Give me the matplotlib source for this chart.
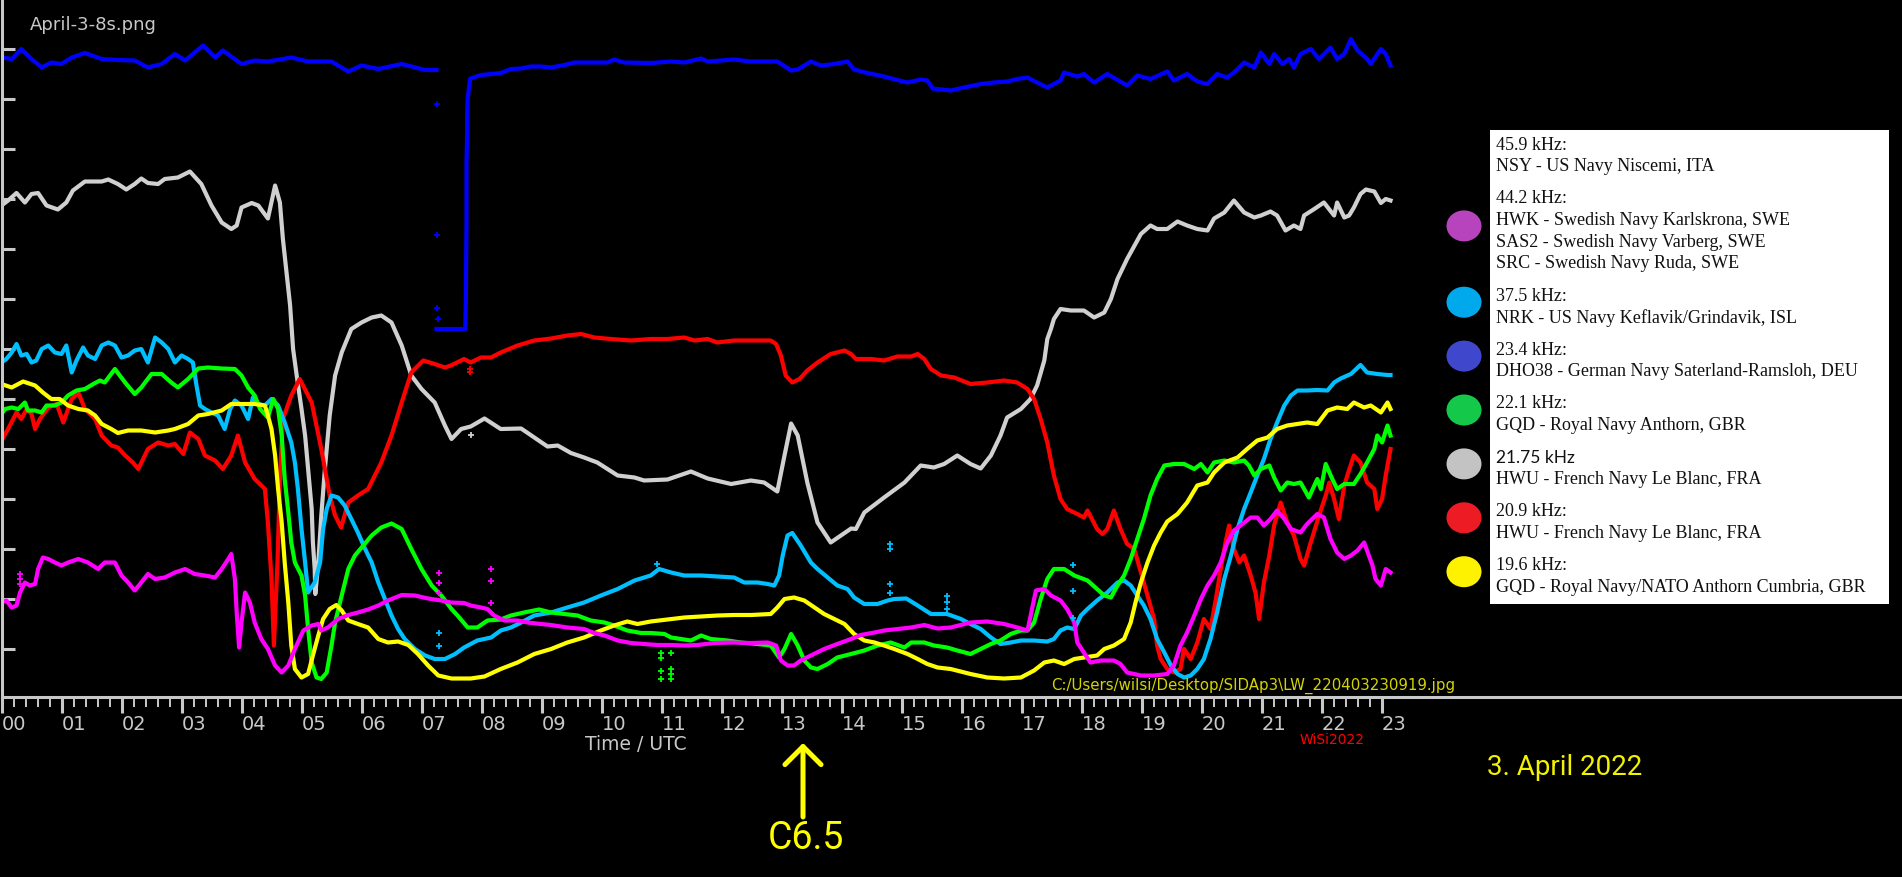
import numpy as np
import matplotlib
matplotlib.use("Agg")
import matplotlib.pyplot as plt
from matplotlib.patches import Rectangle, Ellipse

W, H = 1902, 878
GRAY = "#c8c8c8"
NARROW = ["Liberation Sans Narrow", "DejaVu Sans"]
SERIF = ["Liberation Serif", "DejaVu Serif"]

# ---------------- data (time in UTC hours, signal level in arbitrary units) ----------------
hours = list(range(24))
hour_labels = [f"{h:02d}" for h in hours]

blue_t = [0, .17, .33, .5, .67, .83, 1.0, 1.17, 1.39, 1.67, 1.94, 2.22, 2.44, 2.67, 2.89, 3.06, 3.22, 3.36,
          3.56, 3.69, 4.0, 4.22, 4.44, 4.83, 5.11, 5.5, 5.78, 6.0, 6.28, 6.67, 7.06, 7.25, np.nan,
          7.25, 7.73, 7.74, 7.75, 7.75, 7.76, 7.76, 7.77, 7.79, 7.81, 7.82, 7.99, 8.16, 8.32, 8.49, 8.66,
          8.82, 8.99, 9.16, 9.38, 9.55, 9.82, 10.1, 10.21, 10.38, 10.82, 11.16, 11.38, 11.66, 11.77, 12.21,
          12.49, 12.93, 13.16, 13.27, 13.49, 13.66, 13.88, 14.1, 14.21, 14.43, 14.71, 14.93, 15.1, 15.32,
          15.43, 15.52, 15.82, 16.04, 16.32, 16.54, 16.76, 16.93, 17.1, 17.26, 17.43, 17.65, 17.71, 17.93,
          18.04, 18.21, 18.43, 18.76, 18.93, 19.15, 19.43, 19.54, 19.76, 19.93, 20.1, 20.26, 20.43, 20.54,
          20.71, 20.88, 20.99, 21.13, 21.21, 21.35, 21.46, 21.54, 21.65, 21.82, 21.96, 22.15, 22.26, 22.38,
          22.49, 22.6, 22.76, 22.82, 22.99, 23.07, 23.15]
blue_v = [11.83, 11.8, 12.0, 11.8, 11.63, 11.73, 11.7, 11.83, 11.92, 11.8, 11.78, 11.77, 11.63, 11.7, 11.9,
          11.77, 11.93, 12.07, 11.83, 11.97, 11.7, 11.77, 11.75, 11.83, 11.75, 11.75, 11.55, 11.67, 11.6,
          11.7, 11.58, 11.58, np.nan,
          6.4, 6.4, 7.03, 8.51, 9.71, 10.31, 10.63, 11.01, 11.21, 11.4, 11.41, 11.48, 11.5, 11.52, 11.6,
          11.61, 11.65, 11.65, 11.63, 11.68, 11.73, 11.73, 11.73, 11.79, 11.73, 11.72, 11.75, 11.73, 11.81,
          11.75, 11.79, 11.75, 11.75, 11.57, 11.59, 11.75, 11.67, 11.7, 11.75, 11.59, 11.52, 11.45, 11.38,
          11.33, 11.39, 11.37, 11.21, 11.17, 11.23, 11.3, 11.33, 11.35, 11.4, 11.43, 11.33, 11.23, 11.37,
          11.53, 11.45, 11.5, 11.33, 11.5, 11.27, 11.47, 11.4, 11.55, 11.37, 11.5, 11.35, 11.3, 11.5, 11.43,
          11.53, 11.73, 11.63, 11.93, 11.7, 11.9, 11.7, 11.8, 11.63, 11.9, 12.0, 11.8, 12.03, 11.8, 11.9,
          12.2, 11.97, 11.8, 11.7, 12.0, 11.9, 11.67]

gray_t = [0, .11, .25, .39, .5, .61, .75, .94, 1.08, 1.19, 1.39, 1.67, 1.78, 1.94, 2.08, 2.22, 2.33, 2.44,
          2.61, 2.72, 2.94, 3.14, 3.33, 3.5, 3.67, 3.83, 3.92, 4.0, 4.17, 4.28, 4.44, 4.56, 4.64, 4.69, 4.75,
          4.81, 4.86, 4.92, 5.0, 5.06, 5.11, 5.17, 5.19, 5.22, 5.23, 5.28, 5.33, 5.39, 5.47, 5.56, 5.67,
          5.83, 6.0, 6.17, 6.33, 6.5, 6.67, 6.83, 7.0, 7.22, 7.39, 7.5, 7.66, 7.82, 8.05, 8.32, 8.66, 8.82,
          9.1, 9.27, 9.49, 9.71, 9.93, 10.27, 10.55, 10.71, 11.1, 11.49, 11.77, 12.16, 12.49, 12.71, 12.93,
          13.05, 13.16, 13.27, 13.43, 13.6, 13.82, 13.99, 14.16, 14.24, 14.38, 14.71, 15.05, 15.32, 15.54,
          15.71, 15.93, 16.15, 16.32, 16.49, 16.65, 16.76, 16.99, 17.15, 17.26, 17.38, 17.43, 17.49, 17.54,
          17.65, 17.82, 18.04, 18.21, 18.38, 18.49, 18.6, 18.76, 18.99, 19.15, 19.26, 19.43, 19.6, 19.76,
          19.93, 20.1, 20.21, 20.38, 20.54, 20.71, 20.88, 20.99, 21.15, 21.26, 21.4, 21.54, 21.65, 21.71,
          21.88, 22.04, 22.21, 22.26, 22.38, 22.46, 22.54, 22.65, 22.74, 22.88, 22.99, 23.07, 23.15]
gray_v = [8.87, 8.97, 9.12, 8.93, 9.1, 9.12, 8.87, 8.79, 8.93, 9.17, 9.35, 9.35, 9.39, 9.3, 9.19, 9.3, 9.41,
          9.32, 9.3, 9.4, 9.43, 9.55, 9.3, 8.87, 8.53, 8.4, 8.47, 8.83, 8.92, 8.87, 8.61, 9.27, 8.93, 8.2,
          7.53, 6.87, 6.0, 5.47, 4.8, 4.27, 3.6, 2.8, 2.13, 1.6, 1.1, 1.73, 2.67, 3.6, 4.67, 5.47, 5.93, 6.4,
          6.53, 6.63, 6.67, 6.53, 6.07, 5.47, 5.2, 4.93, 4.47, 4.2, 4.4, 4.45, 4.61, 4.4, 4.41, 4.28, 4.05,
          4.07, 3.92, 3.83, 3.73, 3.47, 3.43, 3.37, 3.39, 3.55, 3.41, 3.3, 3.37, 3.33, 3.15, 3.87, 4.51, 4.27,
          3.33, 2.53, 2.13, 2.27, 2.41, 2.4, 2.73, 3.03, 3.33, 3.67, 3.63, 3.7, 3.87, 3.7, 3.61, 3.87, 4.27,
          4.63, 4.8, 5.0, 5.27, 5.77, 6.2, 6.4, 6.6, 6.8, 6.77, 6.77, 6.63, 6.73, 7.0, 7.4, 7.8, 8.3, 8.47,
          8.4, 8.4, 8.55, 8.47, 8.4, 8.37, 8.61, 8.73, 8.97, 8.73, 8.63, 8.67, 8.75, 8.67, 8.37, 8.47, 8.4,
          8.67, 8.8, 8.93, 8.67, 8.93, 8.63, 8.67, 8.83, 9.1, 9.19, 9.15, 8.92, 9.0, 8.97]

cyan_t = [0, .08, .17, .25, .33, .42, .5, .58, .67, .78, .89, 1.0, 1.08, 1.17, 1.25, 1.36, 1.44, 1.56, 1.67,
          1.78, 1.89, 2.0, 2.11, 2.22, 2.33, 2.44, 2.56, 2.67, 2.78, 2.89, 3.0, 3.11, 3.19, 3.25, 3.31, 3.39,
          3.5, 3.61, 3.72, 3.81, 3.89, 4.0, 4.11, 4.19, 4.28, 4.39, 4.5, 4.61, 4.72, 4.83, 4.89, 4.94, 5.0,
          5.06, 5.11, 5.22, 5.31, 5.36, 5.42, 5.5, 5.61, 5.72, 5.83, 5.94, 6.06, 6.17, 6.28, 6.39, 6.5, 6.61,
          6.72, 6.89, 7.06, 7.22, 7.39, 7.56, 7.71, 7.93, 8.16, 8.32, 8.49, 8.66, 8.88, 9.16, 9.43, 9.71,
          9.99, 10.27, 10.55, 10.82, 10.96, 11.16, 11.38, 11.66, 11.93, 12.21, 12.38, 12.6, 12.77, 12.88,
          12.96, 13.02, 13.1, 13.18, 13.32, 13.49, 13.6, 13.77, 13.93, 14.1, 14.21, 14.38, 14.6, 14.77, 14.88,
          15.08, 15.27, 15.49, 15.76, 15.99, 16.15, 16.32, 16.49, 16.65, 16.82, 16.99, 17.21, 17.43, 17.54,
          17.65, 17.76, 17.88, 17.99, 18.1, 18.26, 18.43, 18.6, 18.71, 18.82, 18.93, 19.04, 19.15, 19.26,
          19.38, 19.49, 19.6, 19.71, 19.82, 19.93, 20.04, 20.15, 20.26, 20.38, 20.49, 20.6, 20.71, 20.82,
          20.93, 21.04, 21.15, 21.26, 21.38, 21.49, 21.6, 21.76, 21.93, 22.1, 22.21, 22.32, 22.49, 22.65,
          22.76, 22.93, 23.1, 23.15]
cyan_v = [5.73, 5.8, 5.93, 6.1, 5.87, 5.9, 5.73, 5.77, 6.0, 6.07, 5.93, 5.9, 6.07, 5.53, 5.77, 6.03, 5.87,
          5.8, 6.07, 6.13, 6.07, 5.83, 5.87, 5.97, 6.0, 5.73, 6.23, 6.13, 6.0, 5.73, 5.87, 5.8, 5.73, 5.27,
          4.87, 4.8, 4.73, 4.67, 4.4, 4.8, 4.97, 4.87, 4.6, 5.03, 4.9, 4.87, 5.0, 4.87, 4.53, 4.13, 3.73,
          3.2, 2.4, 1.73, 1.13, 1.33, 1.73, 2.4, 2.8, 3.07, 3.03, 2.87, 2.6, 2.33, 2.0, 1.73, 1.33, 1.0, 0.67,
          0.4, 0.2, 0.0, -0.13, -0.2, -0.2, -0.1, 0.03, 0.17, 0.23, 0.37, 0.43, 0.53, 0.67, 0.73, 0.83, 0.93,
          1.07, 1.2, 1.37, 1.47, 1.6, 1.53, 1.47, 1.47, 1.45, 1.43, 1.33, 1.33, 1.3, 1.27, 1.47, 1.87, 2.27,
          2.32, 2.07, 1.73, 1.6, 1.43, 1.27, 1.2, 1.03, 0.9, 0.9, 0.97, 1.0, 1.01, 0.87, 0.7, 0.7, 0.6, 0.5,
          0.4, 0.23, 0.1, 0.13, 0.17, 0.17, 0.15, 0.2, 0.37, 0.43, 0.4, 0.67, 0.8, 0.97, 1.13, 1.33, 1.37,
          1.27, 1.07, 0.87, 0.6, 0.2, -0.07, -0.33, -0.5, -0.57, -0.53, -0.4, -0.2, 0.2, 0.73, 1.4, 1.87, 2.4,
          2.8, 3.13, 3.47, 3.8, 4.2, 4.53, 4.87, 5.07, 5.17, 5.17, 5.18, 5.17, 5.33, 5.41, 5.5, 5.68, 5.53,
          5.5, 5.48, 5.48]

green_t = [0, .06, .17, .28, .39, .44, .56, .67, .75, .89, 1.0, 1.11, 1.25, 1.39, 1.53, 1.64, 1.72, 1.89,
           2.06, 2.22, 2.33, 2.5, 2.67, 2.83, 2.94, 3.11, 3.28, 3.44, 3.67, 3.89, 4.0, 4.11, 4.22, 4.31, 4.44,
           4.53, 4.61, 4.67, 4.72, 4.78, 4.83, 4.89, 5.0, 5.06, 5.11, 5.17, 5.25, 5.33, 5.42, 5.5, 5.56, 5.67,
           5.78, 5.89, 6.03, 6.17, 6.33, 6.5, 6.67, 6.83, 7.0, 7.17, 7.33, 7.5, 7.6, 7.77, 7.93, 8.1, 8.32,
           8.49, 8.71, 8.96, 9.16, 9.38, 9.6, 9.82, 10.05, 10.21, 10.43, 10.66, 10.82, 11.05, 11.16, 11.32,
           11.49, 11.66, 11.82, 12.1, 12.32, 12.6, 12.82, 12.96, 13.05, 13.16, 13.27, 13.38, 13.49, 13.6,
           13.77, 13.93, 14.16, 14.38, 14.6, 14.82, 15.05, 15.16, 15.38, 15.54, 15.76, 15.93, 16.15, 16.32,
           16.49, 16.65, 16.82, 16.99, 17.1, 17.21, 17.32, 17.43, 17.54, 17.71, 17.88, 18.1, 18.26, 18.38,
           18.49, 18.6, 18.71, 18.82, 18.93, 19.04, 19.15, 19.26, 19.38, 19.54, 19.71, 19.88, 19.99, 20.1,
           20.21, 20.38, 20.54, 20.71, 20.79, 20.88, 20.99, 21.13, 21.21, 21.32, 21.43, 21.54, 21.65, 21.79,
           21.93, 21.99, 22.07, 22.18, 22.26, 22.38, 22.54, 22.65, 22.76, 22.88, 22.93, 23.01, 23.1, 23.15]
green_v = [4.7, 4.8, 4.83, 4.8, 4.93, 4.77, 4.77, 4.73, 4.87, 4.87, 4.93, 5.07, 5.17, 5.2, 5.3, 5.37, 5.33,
           5.6, 5.33, 5.1, 5.23, 5.5, 5.5, 5.33, 5.23, 5.4, 5.61, 5.63, 5.61, 5.6, 5.47, 5.23, 5.07, 4.8,
           4.63, 5.0, 4.8, 4.27, 3.4, 2.73, 2.13, 1.73, 1.47, 1.07, 0.4, -0.27, -0.57, -0.6, -0.47, 0.07, 0.53,
           1.07, 1.6, 1.87, 2.07, 2.27, 2.43, 2.51, 2.4, 2.0, 1.6, 1.27, 1.07, 0.8, 0.67, 0.43, 0.43, 0.57,
           0.59, 0.67, 0.73, 0.79, 0.73, 0.7, 0.67, 0.57, 0.53, 0.47, 0.37, 0.32, 0.32, 0.3, 0.23, 0.2, 0.17,
           0.27, 0.2, 0.17, 0.13, 0.1, 0.07, -0.17, 0.0, 0.3, 0.07, -0.23, -0.37, -0.4, -0.3, -0.17, -0.1,
           -0.03, 0.07, 0.13, 0.03, 0.13, 0.13, 0.07, 0.03, -0.03, -0.1, 0.0, 0.1, 0.17, 0.3, 0.37, 0.37,
           0.53, 1.0, 1.4, 1.6, 1.6, 1.47, 1.37, 1.2, 1.07, 1.03, 1.27, 1.47, 1.8, 2.2, 2.6, 3.07, 3.4, 3.67,
           3.7, 3.7, 3.6, 3.7, 3.53, 3.73, 3.77, 3.73, 3.77, 3.67, 3.47, 3.6, 3.67, 3.43, 3.17, 3.33, 3.3,
           3.33, 3.03, 3.4, 3.2, 3.7, 3.4, 3.2, 3.3, 3.3, 3.5, 3.73, 4.0, 4.27, 4.13, 4.47, 4.27]

red_t = [0, .11, .25, .33, .42, .5, .56, .64, .78, .92, 1.03, 1.17, 1.28, 1.39, 1.56, 1.67, 1.83, 1.94, 2.06,
         2.19, 2.28, 2.44, 2.61, 2.78, 2.89, 3.03, 3.14, 3.28, 3.39, 3.56, 3.69, 3.83, 3.94, 4.06, 4.22, 4.39,
         4.44, 4.5, 4.54, 4.6, 4.64, 4.69, 4.83, 4.97, 5.17, 5.33, 5.47, 5.56, 5.66, 5.78, 5.94, 6.11, 6.33,
         6.5, 6.67, 6.83, 7.03, 7.22, 7.39, 7.49, 7.71, 7.82, 7.99, 8.16, 8.32, 8.6, 8.88, 9.16, 9.43, 9.66,
         9.88, 10.16, 10.49, 10.82, 11.1, 11.38, 11.55, 11.77, 11.93, 12.21, 12.49, 12.82, 12.91, 12.99,
         13.07, 13.18, 13.3, 13.43, 13.6, 13.82, 14.05, 14.16, 14.24, 14.49, 14.71, 14.93, 15.16, 15.27,
         15.38, 15.49, 15.66, 15.88, 16.15, 16.43, 16.71, 16.93, 17.1, 17.21, 17.32, 17.43, 17.54, 17.65,
         17.76, 17.93, 18.04, 18.1, 18.26, 18.35, 18.43, 18.54, 18.65, 18.76, 18.88, 18.99, 19.1, 19.21,
         19.26, 19.32, 19.43, 19.54, 19.65, 19.71, 19.82, 19.93, 20.04, 20.15, 20.24, 20.32, 20.4, 20.46,
         20.54, 20.63, 20.71, 20.82, 20.9, 20.96, 21.04, 21.13, 21.21, 21.32, 21.43, 21.54, 21.65, 21.71,
         21.82, 21.96, 22.07, 22.13, 22.21, 22.29, 22.38, 22.43, 22.54, 22.65, 22.76, 22.88, 22.93, 23.01,
         23.07, 23.15]
red_v = [4.17, 4.4, 4.73, 4.6, 4.8, 4.7, 4.4, 4.6, 4.83, 4.9, 4.53, 5.0, 5.13, 4.8, 4.6, 4.27, 4.07, 4.03,
         3.87, 3.73, 3.6, 4.0, 4.13, 4.07, 4.1, 3.9, 4.33, 4.2, 3.87, 3.77, 3.6, 3.87, 4.27, 3.73, 3.4, 3.2,
         2.53, 1.4, 0.07, 1.73, 3.4, 4.6, 5.07, 5.4, 4.93, 4.0, 3.07, 2.67, 2.43, 2.93, 3.07, 3.2, 3.73, 4.27,
         4.93, 5.53, 5.77, 5.7, 5.63, 5.67, 5.8, 5.73, 5.83, 5.83, 5.93, 6.07, 6.17, 6.21, 6.27, 6.3, 6.23,
         6.2, 6.17, 6.2, 6.2, 6.23, 6.17, 6.2, 6.13, 6.17, 6.17, 6.17, 6.1, 5.87, 5.47, 5.33, 5.4, 5.57, 5.73,
         5.9, 5.97, 5.9, 5.8, 5.8, 5.77, 5.85, 5.85, 5.9, 5.8, 5.6, 5.47, 5.43, 5.3, 5.33, 5.37, 5.33, 5.2,
         5.0, 4.6, 4.13, 3.47, 3.0, 2.8, 2.7, 2.63, 2.77, 2.4, 2.3, 2.4, 2.77, 2.4, 2.1, 2.0, 1.53, 1.07, 0.6,
         0.07, -0.2, -0.4, -0.47, -0.4, 0.0, -0.2, 0.13, 0.6, 0.4, 1.0, 1.6, 2.13, 2.47, 2.0, 1.73, 1.87,
         1.47, 1.13, 0.6, 1.33, 1.87, 2.47, 2.93, 2.53, 2.27, 1.8, 1.67, 2.13, 2.67, 3.07, 3.33, 3.0, 2.6,
         3.27, 3.47, 3.87, 3.73, 3.33, 3.2, 2.8, 3.0, 3.47, 4.0]

yellow_t = [0, .17, .36, .56, .69, .83, .97, 1.11, 1.28, 1.44, 1.56, 1.67, 1.83, 1.94, 2.11, 2.33, 2.56, 2.78,
            2.89, 3.11, 3.28, 3.44, 3.67, 3.83, 4.0, 4.22, 4.39, 4.44, 4.5, 4.56, 4.61, 4.67, 4.72, 4.78,
            4.83, 4.89, 5.0, 5.11, 5.19, 5.28, 5.36, 5.47, 5.58, 5.67, 5.78, 5.94, 6.11, 6.28, 6.44, 6.61,
            6.78, 6.94, 7.11, 7.28, 7.5, 7.82, 8.05, 8.32, 8.6, 8.88, 9.16, 9.43, 9.71, 9.99, 10.21, 10.43,
            10.6, 10.82, 11.1, 11.38, 11.66, 11.93, 12.21, 12.49, 12.82, 12.93, 13.05, 13.21, 13.38, 13.55,
            13.71, 13.88, 14.05, 14.21, 14.38, 14.55, 14.71, 14.88, 15.1, 15.27, 15.43, 15.6, 15.82, 16.15,
            16.43, 16.71, 16.99, 17.21, 17.38, 17.54, 17.71, 17.88, 18.04, 18.26, 18.38, 18.54, 18.71, 18.82,
            18.9, 18.99, 19.1, 19.21, 19.32, 19.43, 19.6, 19.76, 19.93, 20.1, 20.21, 20.38, 20.6, 20.76,
            20.93, 21.1, 21.26, 21.43, 21.6, 21.76, 21.93, 22.1, 22.26, 22.43, 22.54, 22.71, 22.82, 22.99,
            23.1, 23.15]
yellow_v = [5.3, 5.23, 5.35, 5.27, 5.13, 5.0, 5.0, 4.87, 4.8, 4.77, 4.67, 4.5, 4.4, 4.32, 4.37, 4.37, 4.33,
            4.37, 4.4, 4.5, 4.67, 4.7, 4.77, 4.9, 4.9, 4.9, 4.87, 4.67, 4.4, 3.87, 3.2, 2.53, 1.73, 0.93,
            0.07, -0.4, -0.57, -0.5, -0.13, 0.27, 0.6, 0.8, 0.88, 0.77, 0.57, 0.5, 0.43, 0.2, 0.13, 0.15, 0.08,
            -0.1, -0.33, -0.53, -0.59, -0.59, -0.55, -0.4, -0.27, -0.1, 0.0, 0.13, 0.23, 0.37, 0.47, 0.55,
            0.5, 0.55, 0.59, 0.63, 0.65, 0.67, 0.68, 0.68, 0.7, 0.83, 1.0, 1.03, 0.97, 0.83, 0.7, 0.6, 0.5,
            0.3, 0.17, 0.13, 0.07, 0.0, -0.1, -0.2, -0.3, -0.37, -0.4, -0.5, -0.57, -0.59, -0.57, -0.43,
            -0.27, -0.23, -0.3, -0.2, -0.17, -0.13, 0.0, 0.07, 0.2, 0.53, 0.93, 1.33, 1.73, 2.07, 2.33, 2.55,
            2.7, 2.93, 3.27, 3.33, 3.53, 3.73, 3.83, 4.0, 4.17, 4.23, 4.4, 4.47, 4.5, 4.53, 4.5, 4.77, 4.83,
            4.8, 4.93, 4.83, 4.87, 4.73, 4.93, 4.8]

magenta_t = [0, .08, .17, .25, .31, .39, .47, .56, .61, .69, .78, .89, 1.0, 1.11, 1.28, 1.44, 1.61, 1.72,
             1.89, 2.0, 2.11, 2.22, 2.33, 2.44, 2.56, 2.72, 2.89, 3.06, 3.22, 3.39, 3.56, 3.67, 3.78, 3.83,
             3.89, 3.92, 3.96, 4.0, 4.06, 4.14, 4.22, 4.33, 4.44, 4.56, 4.67, 4.78, 4.89, 5.03, 5.17, 5.28,
             5.33, 5.44, 5.61, 5.78, 5.94, 6.11, 6.28, 6.44, 6.67, 6.89, 7.11, 7.33, 7.49, 7.71, 7.82, 7.99,
             8.1, 8.21, 8.38, 8.6, 8.77, 8.99, 9.16, 9.43, 9.71, 9.88, 10.05, 10.27, 10.49, 10.71, 10.93, 11.16,
             11.38, 11.6, 11.88, 12.16, 12.49, 12.77, 12.91, 12.99, 13.1, 13.21, 13.32, 13.49, 13.71, 13.93,
             14.16, 14.32, 14.55, 14.71, 14.93, 15.16, 15.38, 15.6, 15.82, 16.15, 16.43, 16.71, 16.93, 17.1,
             17.24, 17.38, 17.49, 17.65, 17.76, 17.88, 17.93, 18.04, 18.15, 18.32, 18.43, 18.54, 18.65, 18.76,
             18.99, 19.21, 19.43, 19.54, 19.65, 19.76, 19.88, 19.99, 20.1, 20.21, 20.32, 20.43, 20.54, 20.65,
             20.82, 20.93, 21.04, 21.15, 21.26, 21.38, 21.49, 21.65, 21.76, 21.93, 22.04, 22.15, 22.26, 22.38,
             22.49, 22.6, 22.71, 22.79, 22.85, 22.9, 22.99, 23.07, 23.15]
magenta_v = [0.93, 0.97, 0.83, 0.87, 1.13, 1.33, 1.27, 1.3, 1.6, 1.83, 1.8, 1.73, 1.67, 1.73, 1.8, 1.73, 1.6,
             1.73, 1.73, 1.47, 1.33, 1.17, 1.33, 1.5, 1.4, 1.43, 1.53, 1.6, 1.5, 1.47, 1.43, 1.6, 1.8, 1.9,
             1.4, 0.73, 0.03, 0.53, 1.13, 0.93, 0.53, 0.2, 0.0, -0.33, -0.47, -0.33, 0.0, 0.37, 0.47, 0.5,
             0.37, 0.43, 0.6, 0.68, 0.73, 0.79, 0.87, 0.97, 1.08, 1.07, 1.01, 0.97, 0.93, 0.92, 0.87, 0.83,
             0.8, 0.67, 0.57, 0.57, 0.53, 0.5, 0.48, 0.43, 0.4, 0.32, 0.27, 0.17, 0.12, 0.1, 0.08, 0.08, 0.07,
             0.08, 0.12, 0.13, 0.12, 0.13, 0.07, -0.23, -0.33, -0.33, -0.23, -0.13, 0.0, 0.1, 0.2, 0.28, 0.33,
             0.37, 0.4, 0.43, 0.48, 0.41, 0.43, 0.53, 0.55, 0.5, 0.43, 0.37, 1.17, 1.2, 1.07, 0.97, 0.8, 0.53,
             0.13, -0.07, -0.27, -0.23, -0.23, -0.23, -0.3, -0.47, -0.53, -0.53, -0.5, -0.33, 0.07, 0.33, 0.67,
             1.0, 1.27, 1.47, 1.73, 2.13, 2.37, 2.47, 2.63, 2.63, 2.47, 2.6, 2.77, 2.6, 2.4, 2.33, 2.5, 2.7,
             2.63, 2.2, 1.93, 1.8, 1.87, 1.97, 2.13, 1.87, 1.67, 1.4, 1.27, 1.6, 1.53]

# stray single readings
blue_stray_t = [7.25, 7.25, 7.26, 7.27]
blue_stray_v = [10.9, 8.28, 6.83, 6.61]
green_stray_t = [10.99, 10.99, 10.99, 10.99, 11.16, 11.16, 11.16, 11.16]
green_stray_v = [-0.07, -0.17, -0.43, -0.6, -0.07, -0.4, -0.5, -0.6]
magenta_stray_t = [0.31, 0.31, 0.31, 7.29, 7.29, 7.29, 8.15, 8.15, 8.15]
magenta_stray_v = [1.5, 1.4, 1.3, 1.53, 1.33, 1.13, 1.6, 1.37, 0.93]
cyan_stray_t = [7.29, 7.29, 10.93, 14.8, 14.8, 14.8, 14.8, 15.76, 15.76, 15.76, 17.86, 17.86, 17.86]
cyan_stray_v = [0.33, 0.07, 1.7, 2.11, 2.01, 1.3, 1.13, 1.07, 0.95, 0.8, 1.68, 1.17, 0.63]
red_stray_t = [7.81, 7.81]
red_stray_v = [5.6, 5.55]
gray_stray_t = [7.82]
gray_stray_v = [4.28]

legend_groups = [
    ("45.9 kHz:", ["NSY - US Navy Niscemi, ITA"], None),
    ("44.2 kHz:", ["HWK - Swedish Navy Karlskrona, SWE", "SAS2 - Swedish Navy Varberg, SWE",
                   "SRC - Swedish Navy Ruda, SWE"], "#b844bd"),
    ("37.5 kHz:", ["NRK - US Navy Keflavik/Grindavik, ISL"], "#00a8ec"),
    ("23.4 kHz:", ["DHO38 - German Navy Saterland-Ramsloh, DEU"], "#3f48cc"),
    ("22.1 kHz:", ["GQD - Royal Navy Anthorn, GBR"], "#14c84a"),
    ("21.75 kHz", ["HWU - French Navy Le Blanc, FRA"], "#c3c3c3"),
    ("20.9 kHz:", ["HWU - French Navy Le Blanc, FRA"], "#ed1c24"),
    ("19.6 kHz:", ["GQD - Royal Navy/NATO Anthorn Cumbria, GBR"], "#fff200"),
]

# ---------------- figure ----------------
fig = plt.figure(figsize=(W / 100, H / 100), dpi=100, facecolor="black")
ax = fig.add_axes([1.5 / W, (H - 698) / H, (W - 1.5) / W, 698 / H])
ax.set_facecolor("black")
ax.set_xlim(0, (W - 1.5) / 60)
ax.set_ylim(13 - 698 / 50, 13)

for side in ("top", "right"):
    ax.spines[side].set_visible(False)
for side in ("left", "bottom"):
    ax.spines[side].set_color(GRAY)
    ax.spines[side].set_linewidth(2.2)

ax.set_yticks(range(13))
ax.tick_params(axis="y", direction="in", length=9.4, width=2.2, color=GRAY, labelleft=False)
ax.set_xticks(hours, labels=hour_labels)
ax.set_xticks(np.arange(0, 23.01, 0.2), minor=True)
ax.tick_params(axis="x", which="major", direction="out", length=11.5, width=2.2, color=GRAY,
               labelcolor=GRAY, labelsize=14, pad=1)
ax.tick_params(axis="x", which="minor", direction="out", length=7.2, width=1.4, color=GRAY)
for lbl in ax.get_xticklabels():
    lbl.set_ha("left")
    lbl.set_fontfamily(NARROW)
ax.set_xlabel("Time / UTC", color=GRAY, fontsize=13.5, fontfamily=NARROW)
ax.xaxis.set_label_coords((636 - 1.5) / (W - 1.5), (698 - 735) / 698)

lw = 3.0
series = [
    (gray_t, gray_v, "#d0d0d0"),
    (blue_t, blue_v, "#0000ff"),
    (red_t, red_v, "#ff0000"),
    (cyan_t, cyan_v, "#00bfff"),
    (green_t, green_v, "#00ff00"),
    (yellow_t, yellow_v, "#ffff00"),
    (magenta_t, magenta_v, "#ff00ff"),
]
for t, v, c in series:
    ax.plot(t, v, color=c, lw=lw, solid_joinstyle="round")

strays = [
    (blue_stray_t, blue_stray_v, "#0000ff"),
    (green_stray_t, green_stray_v, "#00ff00"),
    (magenta_stray_t, magenta_stray_v, "#ff00ff"),
    (cyan_stray_t, cyan_stray_v, "#00bfff"),
    (red_stray_t, red_stray_v, "#ff0000"),
    (gray_stray_t, gray_stray_v, "#d0d0d0"),
]
for t, v, c in strays:
    ax.plot(t, v, "+", color=c, ms=4, mew=1.3, ls="none")

# ---------------- annotations (pixel overlay) ----------------
ov = fig.add_axes([0, 0, 1, 1], zorder=5)
ov.set_xlim(0, W)
ov.set_ylim(H, 0)
ov.axis("off")
ov.patch.set_alpha(0)

ov.text(30, 25, "April-3-8s.png", color=GRAY, fontsize=13, va="center", ha="left")
ov.text(1051, 686, "C:/Users/wilsi/Desktop/SIDAp3\\LW_220403230919.jpg", color="#d4d400",
        fontsize=10.8, va="center", ha="left")
ov.text(1300, 740, "WiSi2022", color="#ff0000", fontsize=10, va="center", ha="left")
ov.text(1487, 768, "3. April 2022", color="#f2f200", fontsize=20, family=["Roboto", "DejaVu Sans"],
        va="center", ha="left")
ov.text(806, 839, "C6.5", color="#ffff00", fontsize=27, family=["Roboto", "DejaVu Sans"],
        va="center", ha="center")
ov.annotate("", xy=(803, 744), xytext=(803, 818),
            arrowprops=dict(arrowstyle="->,head_length=0.65,head_width=0.65", color="#ffff00",
                            lw=3.6, mutation_scale=20, shrinkA=0, shrinkB=0))

# legend box
ov.add_patch(Rectangle((1490, 131), 399, 474, facecolor="white", edgecolor="none"))
line_h = 21.7
group_gap = 10.5
y = 145
for freq, stations, blob in legend_groups:
    y0 = y
    fam = ["Lato", "DejaVu Sans"] if not freq.endswith(":") else SERIF
    ov.text(1496, y, freq, fontsize=12.5 if fam[0] == "Lato" else 13, family=fam,
            color="#111111", va="center", ha="left")
    for s in stations:
        y += line_h
        ov.text(1496, y, s, fontsize=13, family=SERIF, color="#111111", va="center", ha="left")
    if blob:
        by = y0 + 28 if len(stations) > 1 else y0 + 7
        ov.add_patch(Ellipse((1464, by), 35, 31, facecolor=blob, edgecolor="none"))
    y += line_h + group_gap

fig.savefig("out.png", dpi=100, facecolor="black")
